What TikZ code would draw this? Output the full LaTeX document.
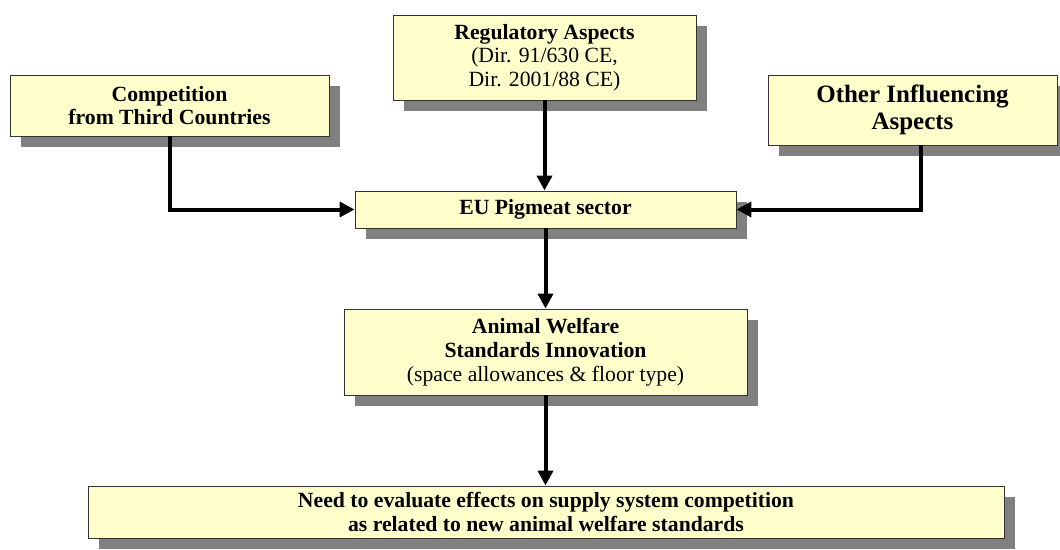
\documentclass[tikz,border=0pt]{standalone}
\usepackage{fontspec}
\setmainfont{Liberation Serif}
\definecolor{note}{HTML}{FFFFCC}
\definecolor{shade}{HTML}{808080}
\definecolor{ink}{HTML}{000000}
\usetikzlibrary{arrows.meta, shadows}
\tikzset{
  box/.style={draw=ink!80, line width=0.9pt, fill=note, align=center, inner sep=0pt,
              drop shadow={shadow xshift=11pt, shadow yshift=-11pt, fill=shade, opacity=1},
              font=\fontsize{21.7}{23.7}\selectfont\bfseries},
  bigbox/.style={box, font=\fontsize{25}{27.5}\selectfont\bfseries},
  flow/.style={-{Triangle[length=15pt,width=15pt]}, line width=4pt, color=ink},
}
\begin{document}
\begin{tikzpicture}[x=1pt,y=-1pt]
\useasboundingbox (0,0) rectangle (1060,549);
\node[box,minimum width=303pt,minimum height=85pt] (reg) at (544.5,57.5) {Regulatory Aspects\\\mdseries (Dir. 91/630 CE,\\\mdseries Dir. 2001/88 CE)};
\node[box,minimum width=319pt,minimum height=61pt] (comp) at (169.5,105.5) {Competition\\from Third Countries};
\node[bigbox,minimum width=289pt,minimum height=70pt] (other) at (912.5,110) {Other Influencing\\Aspects};
\node[box,minimum width=381pt,minimum height=37pt] (eu) at (545.5,209.5) {EU Pigmeat sector};
\node[box,minimum width=403pt,minimum height=86pt] (aw) at (545.5,352) {Animal Welfare\\Standards Innovation\\\mdseries (space allowances \& floor type)};
\node[box,minimum width=916pt,minimum height=52pt] (need) at (546,512) {Need to evaluate effects on supply system competition\\as related to new animal welfare standards};
\draw[flow] (reg.south) -- (reg.south |- eu.north);
\draw[flow] (comp.south) |- (eu.west);
\draw[flow] ([xshift=8pt]other.south) |- (eu.east);
\draw[flow] (eu.south) -- (eu.south |- aw.north);
\draw[flow] (aw.south) -- (aw.south |- need.north);
\end{tikzpicture}
\end{document}
